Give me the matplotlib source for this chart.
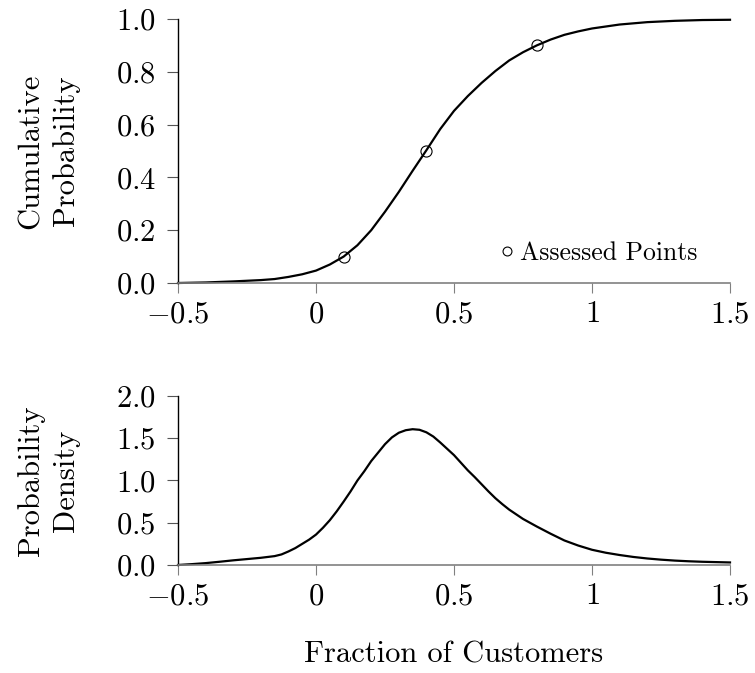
import numpy as np
import matplotlib
matplotlib.use("Agg")
import matplotlib.pyplot as plt

plt.rcParams['font.family'] = 'cmr10'
plt.rcParams['mathtext.fontset'] = 'cm'
plt.rcParams['axes.formatter.use_mathtext'] = True

# cumulative curve
cdf_x = [-0.5, -0.4, -0.3, -0.2, -0.15, -0.1, -0.05, 0.0, 0.05, 0.1, 0.15, 0.2,
         0.25, 0.3, 0.35, 0.4, 0.45, 0.5, 0.55, 0.6, 0.65, 0.7, 0.75, 0.8,
         0.85, 0.9, 0.95, 1.0, 1.1, 1.2, 1.3, 1.4, 1.5]
cdf_y = [0.0, 0.002, 0.006, 0.011, 0.015, 0.023, 0.033, 0.047, 0.07, 0.10, 0.143, 0.20,
         0.27, 0.345, 0.425, 0.503, 0.583, 0.652, 0.708, 0.758, 0.803, 0.843, 0.874, 0.90,
         0.922, 0.94, 0.953, 0.964, 0.979, 0.988, 0.993, 0.996, 0.997]

# assessed points
pts_x = [0.1, 0.4, 0.8]
pts_y = [0.1, 0.5, 0.9]

# density curve
pdf_x = [-0.5, -0.45, -0.4, -0.35, -0.3, -0.25, -0.2, -0.15, -0.125, -0.1, -0.075,
         -0.05, -0.025, 0.0, 0.025, 0.05, 0.075, 0.1, 0.125, 0.15, 0.175, 0.2,
         0.225, 0.25, 0.275, 0.3, 0.325, 0.35, 0.375, 0.4, 0.425, 0.45, 0.475,
         0.5, 0.525, 0.55, 0.575, 0.6, 0.625, 0.65, 0.675, 0.7, 0.75, 0.8,
         0.85, 0.9, 0.95, 1.0, 1.05, 1.1, 1.15, 1.2, 1.25, 1.3, 1.35, 1.4, 1.45, 1.5]
pdf_y = [0.0, 0.01, 0.022, 0.038, 0.055, 0.07, 0.085, 0.105, 0.125, 0.16, 0.20,
         0.25, 0.30, 0.36, 0.44, 0.53, 0.635, 0.75, 0.87, 1.0, 1.11, 1.23,
         1.33, 1.43, 1.51, 1.565, 1.595, 1.607, 1.60, 1.57, 1.52, 1.45, 1.375,
         1.30, 1.21, 1.12, 1.04, 0.955, 0.87, 0.79, 0.72, 0.655, 0.545, 0.455,
         0.37, 0.29, 0.23, 0.18, 0.145, 0.118, 0.095, 0.077, 0.063, 0.052, 0.044, 0.038, 0.034, 0.03]

x_ticks = [-0.5, 0, 0.5, 1, 1.5]
x_labels = ['$-0.5$', '$0$', '$0.5$', '$1$', '$1.5$']
cdf_ticks = [0.0, 0.2, 0.4, 0.6, 0.8, 1.0]
pdf_ticks = [0.0, 0.5, 1.0, 1.5, 2.0]

fs = 22
gray = '#808080'

fig = plt.figure(figsize=(7.55, 6.73), dpi=100)
ax1 = fig.add_axes([0.2358, 0.5795, 0.7311, 0.3923])
ax2 = fig.add_axes([0.2358, 0.1605, 0.7311, 0.2511])

def style(ax, yt, ylim):
    ax.set_xlim(-0.5, 1.5)
    ax.set_ylim(*ylim)
    ax.spines['top'].set_visible(False)
    ax.spines['right'].set_visible(False)
    ax.spines['left'].set_color('black')
    ax.spines['bottom'].set_color(gray)
    ax.spines['left'].set_linewidth(1.0)
    ax.spines['bottom'].set_linewidth(1.2)
    ax.set_xticks(x_ticks)
    ax.set_xticklabels(x_labels, fontsize=fs)
    ax.set_yticks(yt)
    ax.set_yticklabels(['$%.1f$' % v for v in yt], fontsize=fs)
    ax.tick_params(axis='x', direction='out', length=7, width=0.8, color=gray, pad=6)
    ax.tick_params(axis='y', direction='out', length=8, width=0.8, color='#555555', pad=8)

ax1.plot(cdf_x, cdf_y, color='black', lw=1.6, clip_on=False)
ax1.plot(pts_x, pts_y, 'o', mfc='none', mec='black', ms=8, mew=0.8, label='Assessed Points')
style(ax1, cdf_ticks, (0, 1))
ax1.set_ylabel('Cumulative\nProbability', fontsize=fs, linespacing=1.35)
ax1.yaxis.set_label_coords(-0.1775, 0.5)
ax1.legend(loc='lower right', bbox_to_anchor=(0.96, 0.03), frameon=False, fontsize=18.5,
           handlelength=0.5, handletextpad=0.25, markerscale=0.8, borderaxespad=0.0)

ax2.plot(pdf_x, pdf_y, color='black', lw=1.6, clip_on=False)
style(ax2, pdf_ticks, (0, 2))
ax2.set_ylabel('Probability\nDensity', fontsize=fs, linespacing=1.35)
ax2.yaxis.set_label_coords(-0.1775, 0.5)
ax2.set_xlabel('Fraction of Customers', fontsize=fs)
ax2.xaxis.set_label_coords(0.5, -0.45)

fig.savefig('out.png', dpi=100)
